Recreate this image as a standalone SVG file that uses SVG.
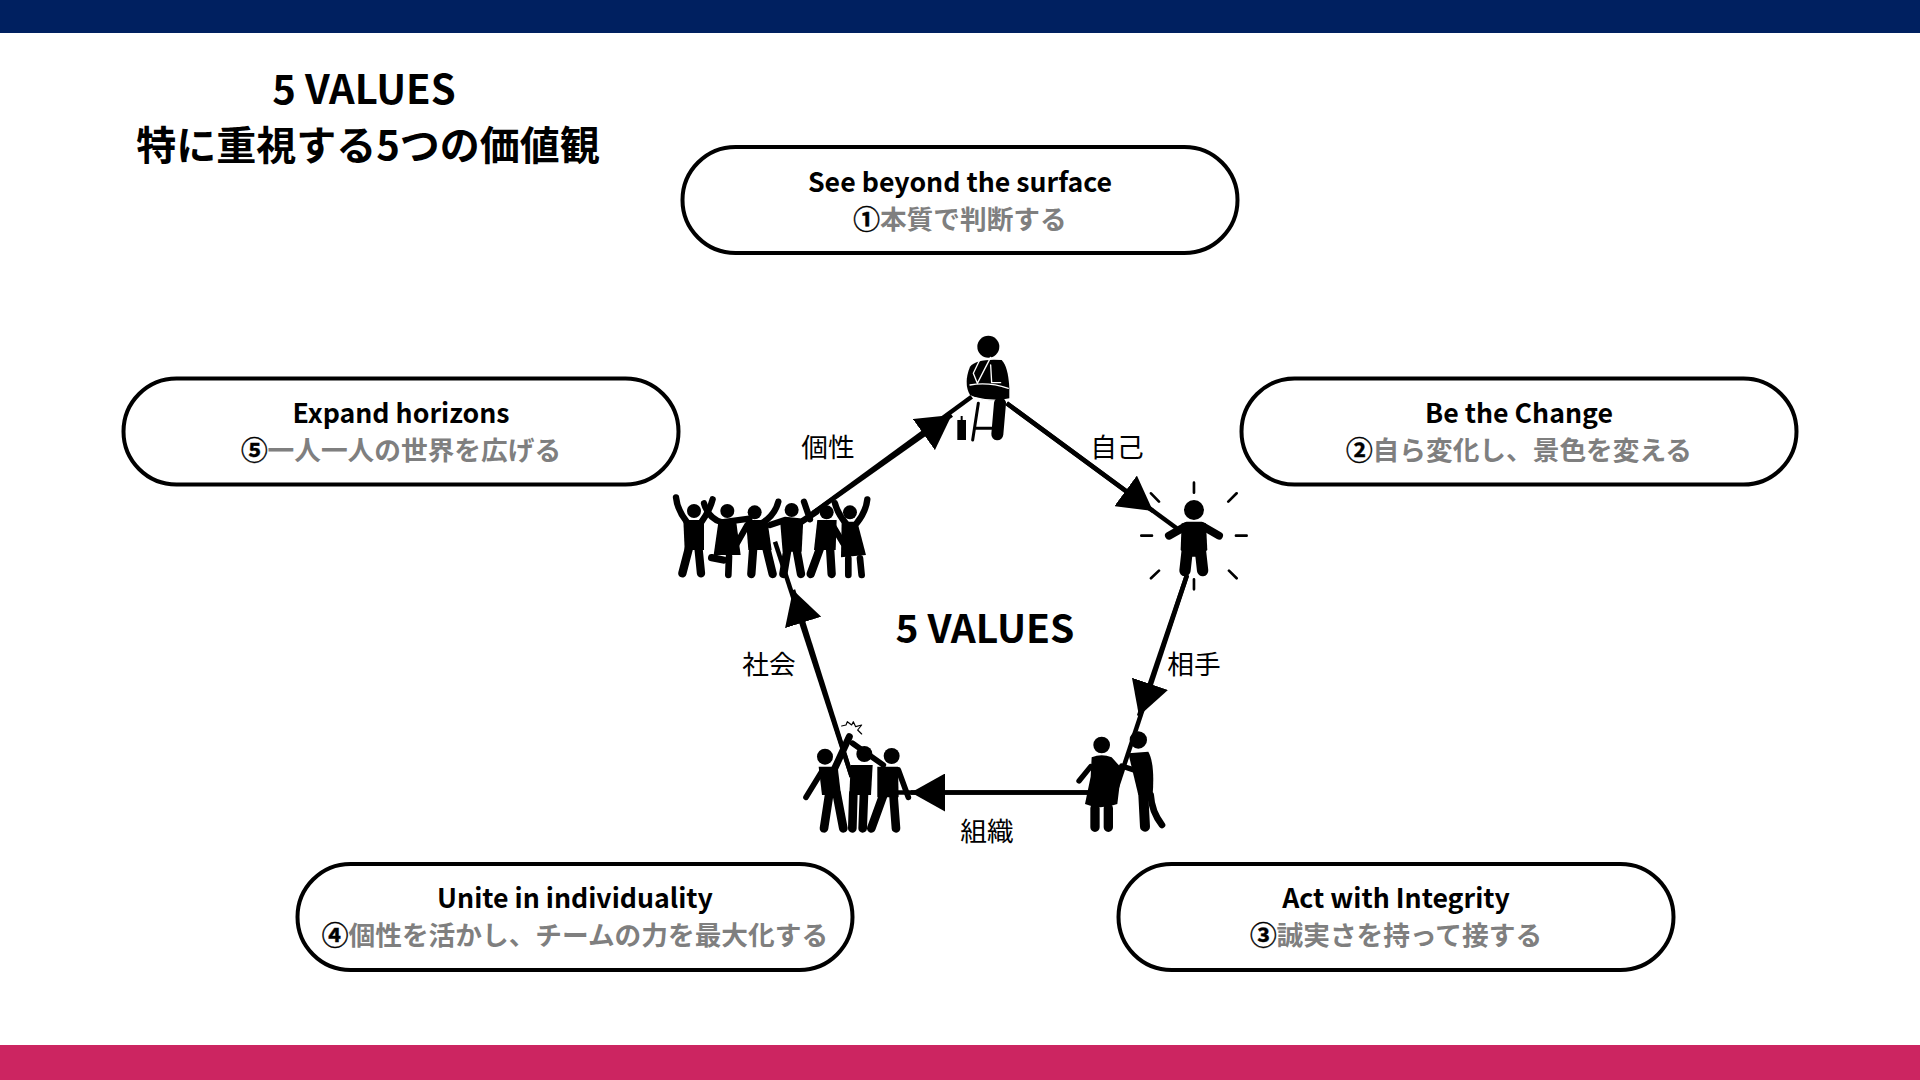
<svg xmlns="http://www.w3.org/2000/svg" width="1920" height="1080" viewBox="0 0 1920 1080">
<style>
text{font-family:"Noto Sans CJK JP","Noto Sans",sans-serif;text-anchor:middle;fill:#000}
.t{font-size:40px;font-weight:700}
.h{font-size:26.7px;font-weight:700}
.s{font-size:26.7px;font-weight:700;fill:#7f7f7f}
.n{fill:#000;stroke:#000;stroke-width:.4px}
.l{font-size:26.7px;font-weight:400}
.pill{fill:#fff;stroke:#000;stroke-width:4}
.c{stroke:#000;stroke-width:4.5;fill:none}
.k{fill:#000;stroke:none}
.w{fill:none;stroke:#000;stroke-linecap:round;stroke-linejoin:round}
.g{fill:none;stroke:#fff;stroke-width:4;stroke-linecap:round;stroke-linejoin:round}
</style>
<defs>
<marker id="a" markerUnits="userSpaceOnUse" markerWidth="36" markerHeight="38" refX="34" refY="19" orient="auto"><path d="M0 0L34 19L0 38Z" fill="#000"/></marker>
</defs>
<rect width="1920" height="1080" fill="#fff"/>
<rect width="1920" height="33" fill="#002060"/>
<rect y="1045" width="1920" height="35" fill="#cc2561"/>
<g id="title"><text class="t" x="364" y="104">5 VALUES</text><text class="t" x="368" y="160">特に重視する5つの価値観</text></g>
<text class="t" x="985" y="643" style="font-size:39px">5 VALUES</text>

<g id="connectors">
<path class="c" d="M1006.7 403.3L1176.7 528.3"/><path class="c" d="M1006.7 403.3L1153 511" marker-end="url(#a)"/>
<path class="c" d="M1187 575L1115 793"/><path class="c" d="M1187 575L1139 716" marker-end="url(#a)"/>
<path class="c" d="M1090 792.5L880 792.5"/><path class="c" d="M1090 792.5L911 792.5" marker-end="url(#a)"/>
<path class="c" d="M851.7 776.7L775 541.7"/><path class="c" d="M851.7 776.7L793 590" marker-end="url(#a)"/>
<path class="c" d="M813 513L971.7 396.7"/><path class="c" d="M813 513L951.7 415" marker-end="url(#a)"/>
</g>

<g id="thinker" transform="translate(920 320) scale(.3333)">
<circle class="k" cx="205" cy="80" r="33"/>
<path class="k" d="M150 140Q170 115 245 120Q265 140 268 205L268 235Q200 250 150 225Q130 190 150 140Z"/>
<path class="g" d="M178 122L160 160L172 190L212 112M212 135L215 188L242 188"/>
<path class="g" d="M150 195Q205 185 265 205M160 232Q210 245 262 240"/>
<path class="w" stroke-width="36" d="M240 250L232 343"/>
<path class="w" stroke-width="9" stroke-linecap="butt" d="M175 250L158 360M165 325L215 325"/>
<rect class="k" x="112" y="300" width="26" height="60"/><rect class="k" x="122" y="288" width="6" height="15"/>
</g>

<g id="shining" transform="translate(920 320) scale(.3333)">
<circle class="k" cx="822" cy="570" r="30"/>
<path class="w" stroke-width="24" d="M747 647L800 617L845 617L897 647"/>
<path class="k" d="M785 610H858L862 690L838 710L806 710L782 690Z"/>
<path class="w" stroke-width="34" d="M803 680L795 752M840 680L848 752"/>
<path class="w" stroke-width="8" stroke-linecap="butt" d="M822 488V518M925 545L950 520M948 647H980M927 752L950 775M822 778V808M717 752L693 775M664 647H696M717 545L693 520"/>
</g>

<g id="party" transform="translate(660 470) scale(.3333)">
<g class="w" stroke-width="19">
<path d="M48 82Q52 120 80 155M158 88Q150 120 125 155"/>
<path d="M132 100Q145 145 185 157L268 146"/>
<path d="M355 95Q345 135 308 158M262 165L228 225"/>
<path d="M330 165L375 150L425 155L470 125M432 95L450 148"/>
<path d="M525 100Q535 135 558 160M622 88Q618 125 590 160M520 170L550 220"/>
</g>
<g class="k">
<circle cx="102" cy="123" r="21"/><circle cx="202" cy="123" r="21"/><circle cx="284" cy="127" r="21"/><circle cx="395" cy="120" r="21"/><circle cx="500" cy="127" r="21"/><circle cx="570" cy="127" r="21"/>
<path d="M70 150H132V240H74Z"/><path d="M176 150H228L242 255H161Z"/><path d="M258 150H322L335 240H265Z"/><path d="M360 148H430L425 245H368Z"/><path d="M472 150H530L527 240H462Z"/><path d="M545 155H592L618 255L543 262Z"/>
</g>
<g class="w" stroke-width="25">
<path d="M88 230L67 310M115 230L123 310"/><path d="M280 230L274 312M318 230L338 312"/><path d="M382 240L370 312M410 240L423 312"/><path d="M482 230L452 312M510 230L515 312"/>
</g>
<g class="w" stroke-width="20"><path d="M207 260L205 315M565 265V315M600 265L605 315"/><path stroke-width="22" d="M190 270L155 263"/></g>
</g>

<g id="pair" transform="translate(1060 700) scale(.3333)">
<circle class="k" cx="125" cy="135" r="25"/>
<path class="k" d="M95 172Q125 160 155 172L185 205L172 312Q120 332 75 312L92 230Z"/>
<path class="w" stroke-width="16" d="M92 200L57 243"/>
<path class="w" stroke-width="28" d="M105 325V382M145 325V382"/>
<circle class="k" cx="235" cy="120" r="26"/>
<path class="k" d="M205 160L265 155Q285 190 278 285L235 285Z"/>
<path class="w" stroke-width="30" d="M250 285L255 380"/><path class="w" stroke-width="20" d="M272 285Q275 335 306 375"/>
<path class="g" stroke-width="24" d="M238 168L228 212L185 198"/>
<path class="w" stroke-width="16" d="M238 168L228 212L185 198"/>
</g>

<g id="unite" transform="translate(790 710) scale(.3333)">
<circle class="k" cx="105" cy="140" r="24"/><circle class="k" cx="223" cy="132" r="24"/><circle class="k" cx="305" cy="138" r="24"/>
<path class="k" d="M86 170H143L153 255H96Z"/><path class="k" d="M182 165H248L243 255H178Z"/><path class="k" d="M262 170H324L326 262H262Z"/>
<path class="w" stroke-width="17" d="M95 185L48 262M325 180L355 262M188 100L280 165"/>
<path class="w" stroke-width="21" d="M132 180L178 80"/>
<path class="w" stroke-width="26" d="M118 250L102 355M140 250L160 355M190 250L187 355M222 250L218 355M282 250L244 355M310 250L318 355"/>
<path class="w" stroke-width="3.5" d="M155 48L168 45L172 35L185 45L190 35L197 50L215 45L203 60L215 72"/>
</g>

<g id="n1"><rect class="pill" x="682.5" y="147" width="555" height="106" rx="53"/><text class="h" x="960" y="191.500">See beyond the surface</text><text class="s" x="960" y="228.500"><tspan class="n">①</tspan>本質で判断する</text></g>
<g id="n2"><rect class="pill" x="1241.500" y="378.500" width="555" height="106" rx="53"/><text class="h" x="1519" y="423">Be the Change</text><text class="s" x="1519" y="459.500"><tspan class="n">②</tspan>自ら変化し、景色を変える</text></g>
<g id="n3"><rect class="pill" x="1118.500" y="864" width="555" height="106" rx="53"/><text class="h" x="1396" y="908">Act with Integrity</text><text class="s" x="1396" y="944.500"><tspan class="n">③</tspan>誠実さを持って接する</text></g>
<g id="n4"><rect class="pill" x="297.500" y="864" width="555" height="106" rx="53"/><text class="h" x="575" y="908">Unite in individuality</text><text class="s" x="575" y="944.500"><tspan class="n">④</tspan>個性を活かし、チームの力を最大化する</text></g>
<g id="n5"><rect class="pill" x="123.500" y="378.500" width="555" height="106" rx="53"/><text class="h" x="401" y="423">Expand horizons</text><text class="s" x="401" y="459.500"><tspan class="n">⑤</tspan>一人一人の世界を広げる</text></g>

<g id="labels">
<text class="l" x="828" y="457">個性</text><text class="l" x="1117" y="457">自己</text><text class="l" x="1194" y="674">相手</text><text class="l" x="987" y="841">組織</text><text class="l" x="769" y="674">社会</text>
</g>
</svg>
